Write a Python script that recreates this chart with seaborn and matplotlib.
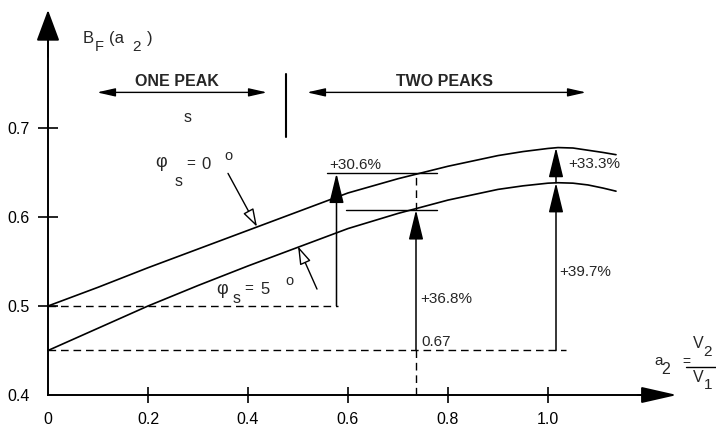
import numpy as np
import pandas as pd
import matplotlib
matplotlib.use("Agg")
import matplotlib.pyplot as plt
import seaborn as sns

# ---------------- data ----------------
a2 = [0.0, 0.1, 0.2, 0.3, 0.4, 0.5, 0.6, 0.7, 0.8, 0.9, 0.95, 1.0, 1.02,
      1.05, 1.08, 1.11, 1.136]
bf_phi0 = [0.500, 0.521, 0.543, 0.564, 0.585, 0.606, 0.627, 0.643, 0.657,
           0.669, 0.6735, 0.677, 0.678, 0.6775, 0.675, 0.6725, 0.670]
bf_phi5 = [0.450, 0.475, 0.500, 0.523, 0.545, 0.566, 0.587, 0.604, 0.619,
           0.631, 0.635, 0.638, 0.6385, 0.638, 0.636, 0.6325, 0.629]
xticks = [0, 0.2, 0.4, 0.6, 0.8, 1.0]
xtick_labels = ["0", "0.2", "0.4", "0.6", "0.8", "1.0"]
yticks = [0.4, 0.5, 0.6, 0.7]
ytick_labels = ["0.4", "0.5", "0.6", "0.7"]

# gain arrows: x position, start value, end value
arrow_x = [0.577, 0.736, 1.016, 1.016]
arrow_from = [0.500, 0.450, 0.450, 0.6385]
arrow_to = [0.649, 0.608, 0.6385, 0.678]
gain_labels = ["+30.6%", "+36.8%", "+39.7%", "+33.3%"]

df = pd.DataFrame({"a2": a2 * 2,
                   "BF": bf_phi0 + bf_phi5,
                   "phi": ["0"] * len(a2) + ["5"] * len(a2)})

# ---------------- figure ----------------
sns.set_theme(style="white")
plt.rcParams["font.family"] = ["Liberation Sans", "DejaVu Sans"]

fig = plt.figure(figsize=(7.16, 4.29), dpi=100)
ax = fig.add_axes([0, 0, 1, 1])
ax.set_facecolor("white")

sns.lineplot(data=df, x="a2", y="BF", units="phi", estimator=None,
             color="black", linewidth=1.2, ax=ax, legend=False)

ax.set_xlim(-0.096, 1.336)
ax.set_ylim(0.3618, 0.8438)
ax.set_xlabel("")
ax.set_ylabel("")

# axes as arrows
for s in ["top", "right"]:
    ax.spines[s].set_visible(False)
ax.spines["left"].set_position(("data", 0))
ax.spines["bottom"].set_position(("data", 0.4))
ax.spines["left"].set_bounds(0.4, 0.81)
ax.spines["bottom"].set_bounds(0, 1.22)
for s in ["left", "bottom"]:
    ax.spines[s].set_color("black")
    ax.spines[s].set_linewidth(1.4)

ax.annotate("", xy=(0, 0.8326), xytext=(0, 0.78),
            arrowprops=dict(arrowstyle="-|>,head_length=1.94,head_width=0.72",
                            color="black", lw=1.4, shrinkA=0, shrinkB=0,
                            mutation_scale=10))
ax.annotate("", xy=(1.258, 0.4), xytext=(1.18, 0.4),
            arrowprops=dict(arrowstyle="-|>,head_length=2.2,head_width=0.5",
                            color="black", lw=1.4, shrinkA=0, shrinkB=0,
                            mutation_scale=10))

ax.set_xticks(xticks)
ax.set_xticklabels(xtick_labels)
ax.set_yticks(yticks)
ax.set_yticklabels(ytick_labels)
ax.tick_params(axis="x", direction="inout", length=12, width=1.2, pad=6.5,
               labelsize=11.5, colors="black", bottom=True)
ax.tick_params(axis="y", direction="inout", length=14, width=1.2, pad=6,
               labelsize=11.5, colors="black", left=True)
ax.xaxis.get_major_ticks()[0].tick1line.set_visible(False)
ax.yaxis.get_major_ticks()[0].tick1line.set_visible(False)

# dashed reference lines
dash = (0, (5.5, 3.5))
ax.plot([0, 0.58], [0.5, 0.5], color="black", lw=1.0, linestyle=dash)
ax.plot([0, 1.036], [0.45, 0.45], color="black", lw=1.0, linestyle=dash)
ax.plot([0.736, 0.736], [0.4, 0.45], color="black", lw=1.0, linestyle=dash)
ax.plot([0.736, 0.736], [0.608, 0.649], color="black", lw=1.0, linestyle=dash)

# solid level lines
ax.plot([0.558, 0.778], [0.649, 0.649], color="black", lw=1.0)
ax.plot([0.597, 0.778], [0.608, 0.608], color="black", lw=1.0)

# gain arrows
for x, y0, y1 in zip(arrow_x, arrow_from, arrow_to):
    ax.annotate("", xy=(x, y1), xytext=(x, y0),
                arrowprops=dict(arrowstyle="-|>,head_length=1.85,head_width=0.45",
                                color="black", lw=1.1, shrinkA=0, shrinkB=0,
                                mutation_scale=10))

ax.text(0.562, 0.658, gain_labels[0], fontsize=11, ha="left", va="center")
ax.text(0.744, 0.508, gain_labels[1], fontsize=11, ha="left", va="center")
ax.text(1.022, 0.538, gain_labels[2], fontsize=11, ha="left", va="center")
ax.text(1.040, 0.6596, gain_labels[3], fontsize=11, ha="left", va="center")
ax.text(0.746, 0.4596, "0.67", fontsize=11, ha="left", va="center")

# region arrows
ax.annotate("", xy=(0.098, 0.740), xytext=(0.438, 0.740),
            arrowprops=dict(arrowstyle="<|-|>,head_length=1.1,head_width=0.25",
                            color="black", lw=1.0, shrinkA=0, shrinkB=0,
                            mutation_scale=10))
ax.annotate("", xy=(0.518, 0.740), xytext=(1.076, 0.740),
            arrowprops=dict(arrowstyle="<|-|>,head_length=1.1,head_width=0.25",
                            color="black", lw=1.0, shrinkA=0, shrinkB=0,
                            mutation_scale=10))
ax.plot([0.476, 0.476], [0.690, 0.761], color="black", lw=1.5)
ax.text(0.258, 0.752, "ONE PEAK", fontsize=11.5, fontweight="bold",
        ha="center", va="center")
ax.text(0.794, 0.752, "TWO PEAKS", fontsize=11.5, fontweight="bold",
        ha="center", va="center")
ax.text(0.28, 0.712, "s", fontsize=11.5, ha="center", va="center")

# y label B_F (a_2)
ax.text(0.070, 0.801, "B", fontsize=12, ha="left", va="center")
ax.text(0.093, 0.791, "F", fontsize=10.5, ha="left", va="center")
ax.text(0.122, 0.801, "(a", fontsize=12, ha="left", va="center")
ax.text(0.168, 0.791, "2", fontsize=11, ha="left", va="center")
ax.text(0.197, 0.801, ")", fontsize=12, ha="left", va="center")

# x label a2 = V2 / V1
ax.text(1.212, 0.438, "a", fontsize=11, ha="left", va="center")
ax.text(1.226, 0.429, "2", fontsize=11.5, ha="left", va="center")
ax.text(1.268, 0.437, "=", fontsize=10, ha="left", va="center")
ax.plot([1.276, 1.336], [0.4315, 0.4315], color="black", lw=1.0, clip_on=False)
ax.text(1.290, 0.458, "V", fontsize=11.5, ha="left", va="center")
ax.text(1.311, 0.448, "2", fontsize=11, ha="left", va="center")
ax.text(1.290, 0.420, "V", fontsize=11.5, ha="left", va="center")
ax.text(1.312, 0.411, "1", fontsize=11, ha="left", va="center")

# curve labels with open-head pointers
ax.text(0.214, 0.661, "φ", fontsize=13, ha="left", va="center")
ax.text(0.254, 0.640, "s", fontsize=11.5, ha="left", va="center")
ax.text(0.276, 0.659, "=", fontsize=11, ha="left", va="center")
ax.text(0.306, 0.659, "0", fontsize=12, ha="left", va="center")
ax.text(0.352, 0.668, "o", fontsize=10.5, ha="left", va="center")
ax.annotate("", xy=(0.418, 0.589), xytext=(0.36, 0.649),
            arrowprops=dict(arrowstyle="-|>,head_length=1.1,head_width=0.35",
                            facecolor="white", edgecolor="black", lw=1.0,
                            shrinkA=0, shrinkB=0, mutation_scale=10))

ax.text(0.336, 0.519, "φ", fontsize=13, ha="left", va="center")
ax.text(0.370, 0.508, "s", fontsize=11.5, ha="left", va="center")
ax.text(0.393, 0.519, "=", fontsize=11, ha="left", va="center")
ax.text(0.425, 0.519, "5", fontsize=12, ha="left", va="center")
ax.text(0.474, 0.528, "o", fontsize=10.5, ha="left", va="center")
ax.annotate("", xy=(0.500, 0.567), xytext=(0.538, 0.519),
            arrowprops=dict(arrowstyle="-|>,head_length=1.1,head_width=0.35",
                            facecolor="white", edgecolor="black", lw=1.0,
                            shrinkA=0, shrinkB=0, mutation_scale=10))

fig.savefig("out.png", dpi=100, facecolor="white")
